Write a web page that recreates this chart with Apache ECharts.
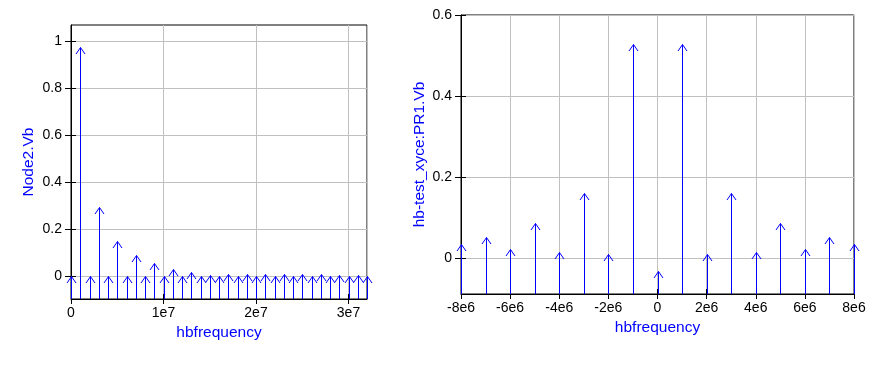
<!DOCTYPE html>
<html>
<head>
<meta charset="utf-8">
<script src="https://cdn.jsdelivr.net/npm/echarts@6/dist/echarts.min.js"></script>
<style>
html,body{margin:0;padding:0;background:#fff;}
#c{width:876px;height:372px;}
</style>
</head>
<body>
<div id="c"></div>
<script>
// Left chart: Node2.Vb vs hbfrequency
const leftFreqs = [0, 1e6, 2e6, 3e6, 4e6, 5e6, 6e6, 7e6, 8e6, 9e6, 10e6, 11e6, 12e6, 13e6, 14e6, 15e6, 16e6,
  17e6, 18e6, 19e6, 20e6, 21e6, 22e6, 23e6, 24e6, 25e6, 26e6, 27e6, 28e6, 29e6, 30e6, 31e6, 32e6];
const leftVals = [0.003, 0.976, 0.001, 0.293, 0.001, 0.150, 0.001, 0.092, 0.001, 0.058, 0.001, 0.031, 0.001, 0.018, 0.001, 0.008, 0.000,
  0.009, 0.000, 0.009, 0.000, 0.009, 0.000, 0.009, 0.000, 0.009, 0.000, 0.009, 0.000, 0.008, 0.000, 0.008, 0.000];
const leftYTicks = [0, 0.2, 0.4, 0.6, 0.8, 1];

// Right chart: hb-test_xyce:PR1.Vb vs hbfrequency
const rightFreqs = [-8e6, -7e6, -6e6, -5e6, -4e6, -3e6, -2e6, -1e6, 0, 1e6, 2e6, 3e6, 4e6, 5e6, 6e6, 7e6, 8e6];
const rightVals = [0.033, 0.052, 0.022, 0.086, 0.015, 0.160, 0.010, 0.528, -0.033, 0.528, 0.010, 0.160, 0.015, 0.086, 0.022, 0.052, 0.033];
const rightYTicks = [0, 0.2, 0.4, 0.6];

const leftYName = 'Node2.Vb';
const rightYName = 'hb-test_xyce:PR1.Vb';
const xName = 'hbfrequency';

const BLUE = '#0000ff';
const FONT = 'Liberation Sans';

function sciFmt(v) {
  if (v === 0) return '0';
  const e = Math.floor(Math.log10(Math.abs(v)) + 1e-9);
  const m = Math.round(v / Math.pow(10, e) * 1000) / 1000;
  return m + 'e' + e;
}

function renderStem(params, api) {
  const p = api.coord([api.value(0), api.value(1)]);
  const cs = params.coordSys;
  const bottom = cs.y + cs.height;
  const x = Math.round(p[0]) + 0.5;
  const y = Math.round(p[1]) + 0.5;
  return {
    type: 'group',
    silent: true,
    children: [
      { type: 'line', shape: { x1: x, y1: bottom, x2: x, y2: y }, style: { stroke: BLUE, lineWidth: 1 } },
      { type: 'polyline', shape: { points: [[x - 4.5, y + 6.5], [x, y], [x + 4.5, y + 6.5]] },
        style: { stroke: BLUE, fill: null, lineWidth: 1 } }
    ]
  };
}

function xAxisCfg(gridIndex, min, max, interval, showMax) {
  return {
    type: 'value', gridIndex, min, max, interval, position: 'bottom',
    name: xName, nameLocation: 'middle', nameGap: 24,
    nameTextStyle: { color: BLUE, fontFamily: FONT, fontSize: 15.5 },
    axisLine: { show: true, onZero: false, lineStyle: { color: '#000', width: 1 } },
    axisTick: { show: true, inside: false, length: 5, lineStyle: { color: '#000' } },
    axisLabel: { color: '#000', fontFamily: FONT, fontSize: 14, margin: 7, formatter: sciFmt,
      showMinLabel: true, showMaxLabel: showMax },
    splitLine: { show: true, lineStyle: { color: '#c0c0c0', width: 1 } }
  };
}

function xInnerTicks(gridIndex, min, max, interval) {
  return {
    type: 'value', gridIndex, min, max, interval, position: 'bottom', offset: 0,
    axisLine: { show: false, onZero: false },
    axisTick: { show: true, inside: true, length: 5, lineStyle: { color: '#000' } },
    axisLabel: { show: false },
    splitLine: { show: false }
  };
}

function yAxisCfg(gridIndex, min, max, ticks, name, gap) {
  return {
    type: 'value', gridIndex, min, max, position: 'left',
    name, nameLocation: 'middle', nameGap: gap,
    nameTextStyle: { color: BLUE, fontFamily: FONT, fontSize: 15.5 },
    axisLine: { show: true, onZero: false, lineStyle: { color: '#000', width: 1 } },
    axisTick: { show: true, inside: false, length: 6, lineStyle: { color: '#000' }, customValues: ticks },
    axisLabel: { color: '#000', fontFamily: FONT, fontSize: 14, margin: 9, customValues: ticks,
      formatter: v => String(Math.round(v * 1000) / 1000) },
    splitLine: { show: true, lineStyle: { color: '#c0c0c0', width: 1 } }
  };
}

function yInnerTicks(gridIndex, min, max, ticks) {
  return {
    type: 'value', gridIndex, min, max, position: 'left', offset: 0,
    axisLine: { show: false, onZero: false },
    axisTick: { show: true, inside: true, length: 5, lineStyle: { color: '#000' }, customValues: ticks },
    axisLabel: { show: false, customValues: ticks },
    splitLine: { show: false }
  };
}

const chart = echarts.init(document.getElementById('c'), null, { renderer: 'canvas' });
chart.setOption({
  animation: false,
  backgroundColor: '#fff',
  grid: [
    { left: 71, top: 25, width: 296, height: 274, show: true, borderColor: '#000', borderWidth: 1, containLabel: false },
    { left: 461, top: 15, width: 393, height: 279, show: true, borderColor: '#000', borderWidth: 1, containLabel: false }
  ],
  xAxis: [
    xAxisCfg(0, 0, 3.2e7, 1e7, false),
    xAxisCfg(1, -8e6, 8e6, 2e6, true),
    xInnerTicks(0, 0, 3.2e7, 1e7),
    xInnerTicks(1, -8e6, 8e6, 2e6)
  ],
  yAxis: [
    yAxisCfg(0, -0.096, 1.068, leftYTicks, leftYName, 34),
    yAxisCfg(1, -0.0895, 0.6, rightYTicks, rightYName, 33),
    yInnerTicks(0, -0.096, 1.068, leftYTicks),
    yInnerTicks(1, -0.0895, 0.6, rightYTicks)
  ],
  series: [
    { type: 'custom', xAxisIndex: 0, yAxisIndex: 0, renderItem: renderStem, clip: false, z: 5,
      data: leftFreqs.map((f, i) => [f, leftVals[i]]) },
    { type: 'custom', xAxisIndex: 1, yAxisIndex: 1, renderItem: renderStem, clip: false, z: 5,
      data: rightFreqs.map((f, i) => [f, rightVals[i]]) }
  ]
});
</script>
</body>
</html>
